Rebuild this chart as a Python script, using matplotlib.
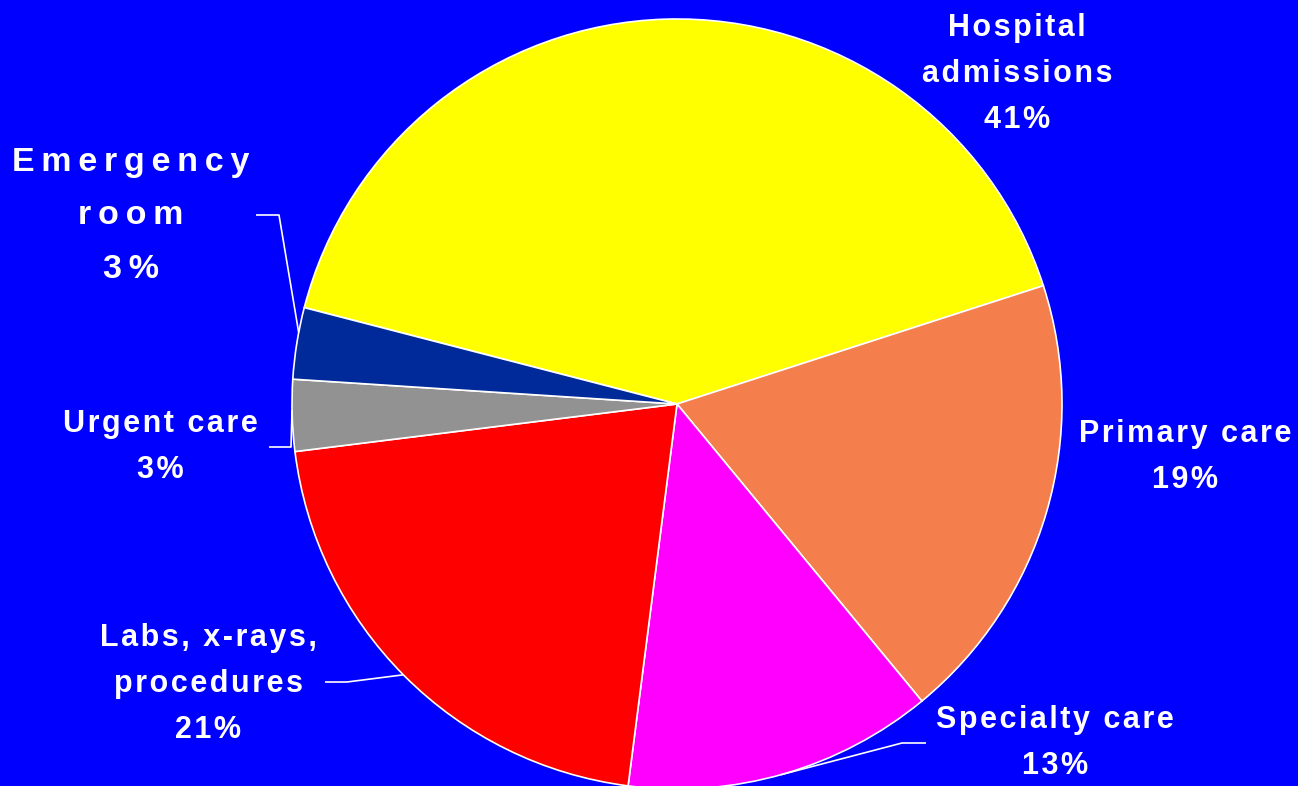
import matplotlib
matplotlib.use("Agg")
import matplotlib.pyplot as plt
import numpy as np

plt.rcParams["font.family"] = ["Liberation Sans", "DejaVu Sans"]

# share of spending by service
labels = ["Hospital\nadmissions", "Primary care", "Specialty care",
          "Labs, x-rays,\nprocedures", "Urgent care", "Emergency\nroom"]
shares = [41, 19, 13, 21, 3, 3]
colors = ["#FFFF00", "#F47E4C", "#FF00FF", "#FF0000", "#929292", "#002A9A"]

BG = "#0000FF"
W, H = 1298, 786
CX, CY, R = 677, H - 404, 385

# text placement in pixel coords (x, y from top), size, spacing
label_pos = [(1017, 74), (1185, 457), (1055, 743), (208, 684), (160, 447), (131, 216)]
font_sz = [22, 22, 22, 22, 22, 24.5]
line_sp = [1.68, 1.68, 1.68, 1.68, 1.68, 1.95]
gap = ["\u200a"] * 5 + ["\u2009"]
# (text end x, text y, knee x, angle on rim) — None where no leader is drawn
leaders = [None, None, (926, 743, 902, -74.4), (325, 682, 347, 224.7),
           (269, 447, 291, 180.9), (256, 215, 279, 169.3)]


def track(s, sep):
    # widen letter spacing
    return "\n".join(sep.join(line) for line in s.split("\n"))


fig = plt.figure(figsize=(W / 100, H / 100), dpi=100, facecolor=BG)
ax = fig.add_axes([0, 0, 1, 1])
ax.set_facecolor(BG)

wedges, _ = ax.pie(shares, colors=colors, startangle=165.5, counterclock=False,
                   center=(CX, CY), radius=R, frame=True,
                   wedgeprops=dict(edgecolor="white", linewidth=1.2))
ax.set_xlim(0, W)
ax.set_ylim(0, H)
ax.set_aspect("equal")
ax.axis("off")

for i, (lab, val) in enumerate(zip(labels, shares)):
    tx, ty = label_pos[i]
    ax.text(tx, H - ty, track(f"{lab}\n{val}%", gap[i]), ha="center", va="center",
            color="white", fontsize=font_sz[i], fontweight="bold",
            linespacing=line_sp[i])
    if leaders[i] is not None:
        x0, y0, xk, ang = leaders[i]
        a = np.deg2rad(ang)
        xe, ye = CX + R * np.cos(a), CY + R * np.sin(a)
        ax.plot([x0, xk, xe], [H - y0, H - y0, ye], color="white", lw=1.2,
                solid_capstyle="butt")

fig.savefig("out.png", dpi=100, facecolor=BG)
